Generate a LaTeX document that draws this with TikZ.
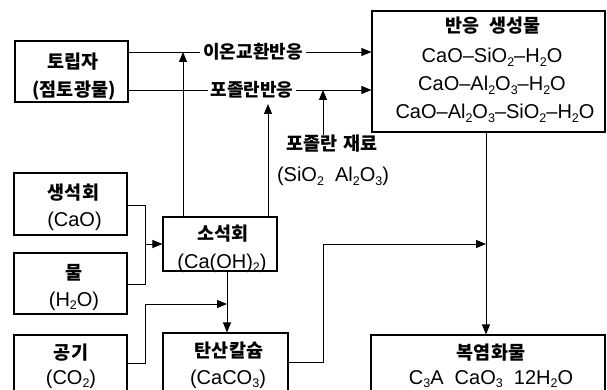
\documentclass[tikz,border=0pt]{standalone}
\usepackage{fontspec}
\setmainfont{Liberation Sans}
\newfontfamily\kr{Noto Sans CJK KR}
\usetikzlibrary{arrows.meta}
\newcommand{\chs}[1]{\raisebox{-0.3ex}{\fontsize{12.5pt}{12.5pt}\selectfont #1}}
\tikzset{
 box/.style={draw, line width=1.1pt, inner sep=0pt, rectangle},
 kt/.style={font=\kr\bfseries\fontsize{18.5pt}{20pt}\selectfont, inner sep=0pt, anchor=base},
 ft/.style={font=\fontsize{20pt}{21pt}\selectfont, inner sep=0pt, anchor=base},
 conn/.style={line width=0.9pt},
 arr/.style={conn, -{Triangle[length=10pt,width=8pt]}},
 lab/.style={kt, font=\kr\bfseries\fontsize{18pt}{20pt}\selectfont, fill=white, inner xsep=3pt, inner ysep=1pt}
}
\begin{document}
\begin{tikzpicture}[x=1pt,y=-1pt]
\useasboundingbox (0,0) rectangle (607,390);
\clip (0,0) rectangle (607,390);
% helper coordinates
\coordinate (y52) at (0,52);
\coordinate (y90) at (0,90);
\coordinate (y104) at (0,104);
\coordinate (y205) at (0,205);
\coordinate (y284) at (0,284);
\coordinate (y304) at (0,304);
\coordinate (y363) at (0,363);
\coordinate (y362) at (0,362);
\coordinate (y244) at (0,244);
\coordinate (x145) at (145,0);
\coordinate (x183) at (183,0);
\coordinate (x227) at (227,0);
\coordinate (x268) at (268,0);
\coordinate (x323) at (323,0);
\coordinate (x486) at (486,0);
% boxes
\node[box, minimum width=113pt, minimum height=61pt] (A) at (71.5,71.5) {};
\node[box, minimum width=233pt, minimum height=121pt] (R) at (488.5,71.5) {};
\node[box, minimum width=113pt, minimum height=62pt] (B) at (70.5,204) {};
\node[box, minimum width=113pt, minimum height=61pt] (W) at (70.5,283.5) {};
\node[box, minimum width=113pt, minimum height=70pt] (G) at (70.5,370) {};
\node[box, minimum width=114pt, minimum height=54pt] (S) at (220,244) {};
\node[box, minimum width=125pt, minimum height=72pt] (C) at (225.5,369) {};
\node[box, minimum width=234pt, minimum height=70pt] (D) at (488,370) {};
% box texts
\node[kt] (A1) at (73,69) {토립자};
\node[kt] (A2) at (74,97) {(점토광물)};
\node[kt] (R1) at (493,33) {반응\hspace{10pt}생성물};
\node[ft] (R2) at (492,63) {CaO–SiO\chs{2}–H\chs{2}O};
\node[ft] (R3) at (492,91) {CaO–Al\chs{2}O\chs{3}–H\chs{2}O};
\node[ft] (R4) at (495,119) {CaO–Al\chs{2}O\chs{3}–SiO\chs{2}–H\chs{2}O};
\node[kt] (B1) at (73.5,199) {생석회};
\node[ft] (B2) at (74.5,226) {(CaO)};
\node[kt] (W1) at (74,279) {물};
\node[ft] (W2) at (74,306) {(H\chs{2}O)};
\node[kt] (G1) at (71,359) {공기};
\node[ft] (G2) at (71,384) {(CO\chs{2})};
\node[kt] (S1) at (223,240) {소석회};
\node[ft] (S2) at (222,268) {(Ca(OH)\chs{2})};
\node[kt] (C1) at (229,357) {탄산칼슘};
\node[ft] (C2) at (228,384) {(CaCO\chs{3})};
\node[kt] (D1) at (491,359) {복염화물};
\node[ft] (D2) at (491,384) {C\chs{3}A\ \ CaO\chs{3}\ \ 12H\chs{2}O};
% free labels
\node[kt] (P1) at (332,151) {포졸란\hspace{6pt}재료};
\node[ft] (P2) at (333,182) {(SiO\chs{2}\ \ Al\chs{2}O\chs{3})};
% connectors
\draw[arr] (A.east |- y52) -- (R.west |- y52);
\draw[arr] (A.east |- y90) -- (R.west |- y90);
\node[lab] (L1) at (253,59) {이온교환반응};
\node[lab] (L2) at (252,97) {포졸란반응};
\draw[arr] (S.north -| x183) -- (x183 |- y52);
\draw[arr] (S.north -| x268) -- (x268 |- y104);
\draw[arr] (P1.north -| x323) -- (x323 |- y90);
\draw[conn] (B.east |- y205) -| (x145 |- y284) -- (W.east |- y284);
\draw[arr] (x145 |- S.west) -- (S.west);
\draw[arr] (S.south -| x227) -- (C.north -| x227);
\draw[conn] (G.east |- y363) -| (x145 |- y304);
\draw[arr] (x145 |- y304) -- (x227 |- y304);
\draw[conn] (C.east |- y362) -| (x323 |- y244);
\draw[arr] (x323 |- y244) -- (x486 |- y244);
\draw[arr] (R.south -| x486) -- (D.north -| x486);
\end{tikzpicture}
\end{document}
